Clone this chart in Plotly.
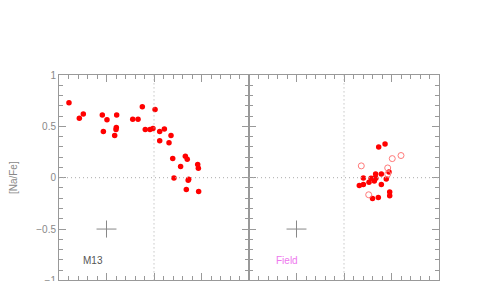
import plotly.graph_objects as go
from plotly.subplots import make_subplots

# M13 (left panel) filled points
m13_o = [-0.895, -0.786, -0.744, -0.544, -0.495, -0.533, -0.393, -0.397, -0.400, -0.414,
         -0.224, -0.168, -0.123, -0.092, -0.042, -0.011, 0.011, 0.060, 0.109, 0.060,
         0.179, 0.158, 0.197, 0.330, 0.350, 0.280, 0.460, 0.467, 0.210, 0.365,
         0.360, 0.340, 0.470]
m13_na = [0.73, 0.58, 0.62, 0.61, 0.565, 0.45, 0.61, 0.49, 0.47, 0.41,
          0.57, 0.57, 0.69, 0.47, 0.47, 0.48, 0.665, 0.45, 0.475, 0.36,
          0.41, 0.34, 0.186, 0.21, 0.18, 0.108, 0.128, 0.092, -0.003, -0.015,
          -0.025, -0.114, -0.134]

# Field (right panel) filled points
field_o = [0.432, 0.365, 0.204, 0.161, 0.204, 0.263, 0.285, 0.315, 0.335, 0.319,
           0.333, 0.393, 0.393, 0.445, 0.474, 0.481, 0.481, 0.300, 0.361]
field_na = [0.327, 0.298, -0.003, -0.075, -0.065, -0.045, -0.005, -0.005, -0.005, -0.032,
            0.036, 0.036, -0.065, -0.013, 0.056, -0.14, -0.176, -0.203, -0.192]

# Field (right panel) open points
field_open_o = [0.182, 0.508, 0.600, 0.460, 0.460, 0.260]
field_open_na = [0.115, 0.186, 0.216, 0.095, 0.035, -0.166]

# typical error bar
err_pos_x = [-0.5]
err_pos_y = [-0.5]
err_x = [0.105]
err_y = [0.083]

panel_labels = ["M13", "Field"]
label_colors = ["#555555", "#ee77ee"]
ytick_vals = [-1, -0.5, 0, 0.5, 1]
ytick_text = ["−1", "−0.5", "0", "0.5", "1"]

AX = "#999999"
FONT = "Liberation Sans"

fig = make_subplots(rows=1, cols=2, horizontal_spacing=0, shared_yaxes=False)

fig.add_trace(go.Scatter(x=m13_o, y=m13_na, mode="markers",
                         marker=dict(color="#ff0000", size=5.5, line=dict(width=0)),
                         showlegend=False), row=1, col=1)
fig.add_trace(go.Scatter(x=field_o, y=field_na, mode="markers",
                         marker=dict(color="#ff0000", size=5.5, line=dict(width=0)),
                         showlegend=False), row=1, col=2)
fig.add_trace(go.Scatter(x=field_open_o, y=field_open_na, mode="markers",
                         marker=dict(symbol="circle-open", color="#ff7a7a", size=6,
                                     line=dict(width=1)),
                         showlegend=False), row=1, col=2)

for c in (1, 2):
    fig.add_trace(go.Scatter(x=err_pos_x, y=err_pos_y, mode="markers",
                             marker=dict(size=1, color="rgba(0,0,0,0)"),
                             error_x=dict(type="data", array=err_x, width=0,
                                          color="#888888", thickness=1),
                             error_y=dict(type="data", array=err_y, width=0,
                                          color="#888888", thickness=1),
                             showlegend=False), row=1, col=c)

# page body has an 8px margin, so the figure starts at (8, 8) in the window
ydom = [(281 - 272.4) / 281, (281 - 67) / 281]
xdoms = [[51 / 479, 241 / 479], [241 / 479, 431 / 479]]

for i, c in enumerate((1, 2)):
    fig.update_xaxes(row=1, col=c, range=[-1, 1], domain=xdoms[i], automargin=False,
                     showgrid=False, zeroline=False, showline=True, linecolor=AX,
                     linewidth=1, mirror="ticks", ticks="inside", ticklen=7,
                     tickcolor=AX, dtick=0.5, tick0=0, showticklabels=False,
                     minor=dict(ticks="inside", ticklen=4, dtick=0.1, tickcolor=AX,
                                showgrid=False))
    fig.update_yaxes(row=1, col=c, range=[-1, 1], domain=ydom, automargin=False,
                     showgrid=False, zeroline=False, showline=True, linecolor=AX,
                     linewidth=1, mirror="ticks", ticks="inside", ticklen=7,
                     tickcolor=AX, tickvals=ytick_vals, ticktext=ytick_text,
                     showticklabels=(c == 1),
                     tickfont=dict(family=FONT, size=10, color="#888888"),
                     minor=dict(ticks="inside", ticklen=4, dtick=0.1, tickcolor=AX,
                                showgrid=False))
    # dotted reference lines
    fig.add_hline(y=0, row=1, col=c, line=dict(color="#aaaaaa", width=1, dash="1px,3px"))
    fig.add_vline(x=0, row=1, col=c, line=dict(color="#aaaaaa", width=1, dash="1px,3px"))
    fig.add_annotation(x=-0.64 + 0.04 * i, y=-0.81, xref=f"x{'' if c == 1 else c}",
                       yref=f"y{'' if c == 1 else c}", text=panel_labels[i],
                       showarrow=False,
                       font=dict(family=FONT, size=10, color=label_colors[i]))

fig.update_yaxes(row=1, col=1, title=dict(text="[Na/Fe]", standoff=16,
                                          font=dict(family=FONT, size=10, color="#888888")))

fig.update_layout(width=479, height=281, autosize=False,
                  margin=dict(l=0, r=0, t=0, b=0),
                  paper_bgcolor="white", plot_bgcolor="white",
                  font=dict(family=FONT))

fig.write_html("out.html")
